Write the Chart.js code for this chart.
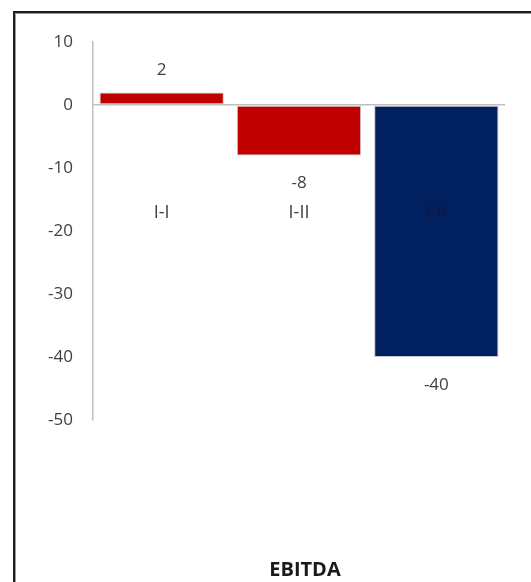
<!DOCTYPE html>
<html>
<head>
<meta charset="utf-8">
<script src="https://cdn.jsdelivr.net/npm/chart.js@4"></script>
<style>
  html, body { margin: 0; padding: 0; background: #fff; overflow: hidden; }
  #wrap { position: relative; width: 531px; height: 582px; }
  #c { position: absolute; left: 0; top: 0; }
  #frame {
    position: absolute; left: 13px; top: 11px; width: 600px; height: 700px;
    border: 2px solid #1c1c1c; box-shadow: inset 1px 1px 0 #9a9a9a, 1px 1px 0 #9a9a9a;
    pointer-events: none;
  }
</style>
</head>
<body>
<div id="wrap">
  <canvas id="c" width="531" height="582"></canvas>
  <div id="frame"></div>
</div>
<script>
const categories = ["I-I", "I-II", "I-II"];
const values = [2, -8, -40];
const barColors = ["#C00000", "#C00000", "#002060"];
const yTicks = [10, 0, -10, -20, -30, -40, -50];
const chartTitle = "EBITDA";

const FONT = "'Open Sans', 'Liberation Sans', sans-serif";
const TEXT = "#404040";

const labelPlugin = {
  id: 'labels',
  afterDatasetsDraw(chart) {
    const ctx = chart.ctx;
    const meta = chart.getDatasetMeta(0);
    const ys = chart.scales.y;
    ctx.save();
    ctx.textAlign = 'center';
    ctx.textBaseline = 'middle';
    meta.data.forEach((el, i) => {
      const v = values[i];
      ctx.font = "17px " + FONT;
      ctx.fillStyle = TEXT;
      const y = v >= 0 ? el.y - 22 : el.y + 28;
      ctx.fillText(String(v), el.x, y);
      // category labels drawn inside plot, below the zero line
      ctx.font = "18px " + FONT;
      ctx.fillStyle = i === 2 ? "#10163a" : TEXT;
      ctx.fillText(categories[i], el.x, ys.getPixelForValue(-17.2));
    });
    // title
    const ca = chart.chartArea;
    ctx.font = "bold 20px " + FONT;
    ctx.fillStyle = "#1a1a1a";
    ctx.fillText(chartTitle, (ca.left + ca.right) / 2 + 6, 570);
    ctx.restore();
  }
};

new Chart(document.getElementById('c'), {
  type: 'bar',
  data: {
    labels: categories,
    datasets: [{
      data: values,
      backgroundColor: barColors,
      borderColor: "#c8c8c8",
      borderWidth: 1,
      borderSkipped: false,
      barPercentage: 0.905,
      categoryPercentage: 1.0
    }]
  },
  options: {
    responsive: false,
    animation: false,
    layout: { padding: { left: 0, top: 42, right: 26, bottom: 162 } },
    plugins: { legend: { display: false }, tooltip: { enabled: false }, title: { display: false } },
    scales: {
      x: { display: false },
      y: {
        min: -50, max: 10,
        afterFit(scale) { scale.width = 93; },
        afterBuildTicks(scale) { scale.ticks = yTicks.map(v => ({ value: v })); },
        ticks: { color: "#404040", font: { family: FONT, size: 17 }, padding: 20 },
        grid: {
          drawTicks: false,
          color: ctx => (ctx.tick && ctx.tick.value === 0) ? "#bfbfbf" : "rgba(0,0,0,0)",
          lineWidth: 1.5
        },
        border: { display: true, color: "#bfbfbf", width: 1.5 }
      }
    }
  },
  plugins: [labelPlugin]
});
</script>
</body>
</html>
